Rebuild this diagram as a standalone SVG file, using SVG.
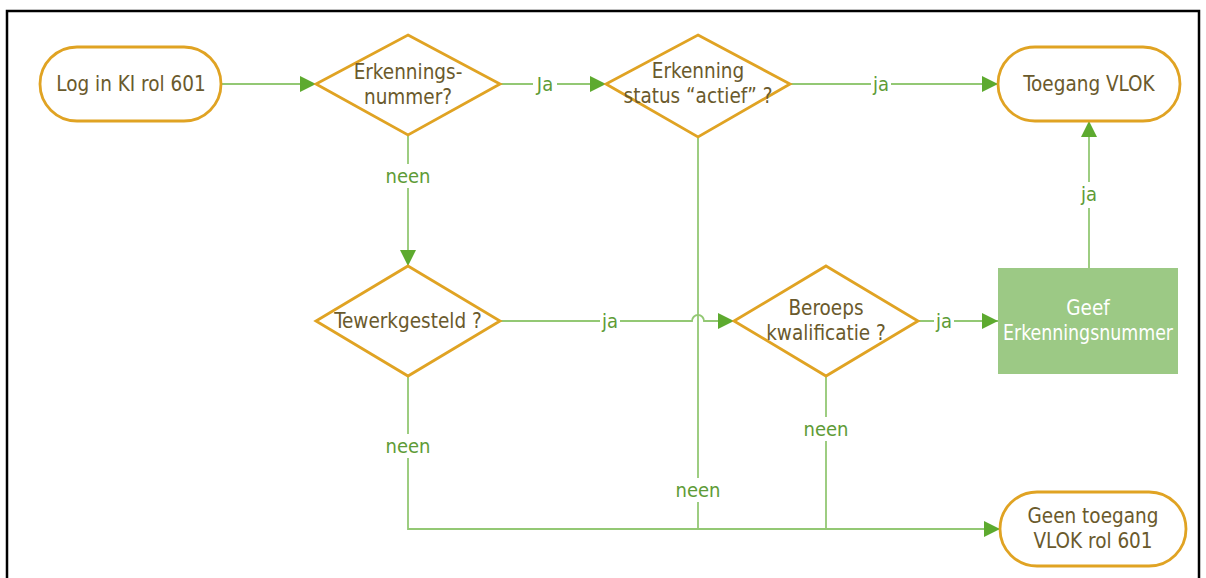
<svg xmlns="http://www.w3.org/2000/svg" width="1206" height="578" viewBox="0 0 1206 578">
<defs>
<marker id="arr" viewBox="0 0 10 10" refX="10" refY="5" markerWidth="16" markerHeight="16" markerUnits="userSpaceOnUse" orient="auto">
<path d="M0,0 L10,5 L0,10 z" fill="#5DAA2F"/>
</marker>
<style>
.frame{fill:#fff;stroke:#000;stroke-width:2.5}
.term{fill:#fff;stroke:#E0A323;stroke-width:2.8}
.dec{fill:#fff;stroke:#E0A323;stroke-width:2.8}
.proc{fill:#9CC985;stroke:none}
.nt{font-family:"DejaVu Sans Condensed","Liberation Sans",sans-serif;font-stretch:condensed;font-size:20.5px;fill:#6A5A2C;text-anchor:middle}
.wt{font-family:"DejaVu Sans Condensed","Liberation Sans",sans-serif;font-stretch:condensed;font-size:20.5px;fill:#fff;text-anchor:middle}
.el{font-family:"DejaVu Sans Condensed","Liberation Sans",sans-serif;font-stretch:condensed;font-size:20px;fill:#5E9B36;text-anchor:middle}
.lbg{fill:#fff}
.cn{fill:none;stroke:#93C874;stroke-width:1.8}
</style>
</defs>
<rect class="frame" x="7" y="11" width="1192" height="572"/>

<g id="connectors">
<path class="cn" d="M221,84 H316" marker-end="url(#arr)"/>
<path class="cn" d="M500,84 H606" marker-end="url(#arr)"/>
<path class="cn" d="M790,84 H998" marker-end="url(#arr)"/>
<path class="cn" d="M408,135 V266" marker-end="url(#arr)"/>
<path class="cn" d="M500,321 H692 A6,6 0 0 1 704,321 H734" marker-end="url(#arr)"/>
<path class="cn" d="M918,321 H998" marker-end="url(#arr)"/>
<path class="cn" d="M1089,268 V121" marker-end="url(#arr)"/>
<path class="cn" d="M698,137 V529"/>
<path class="cn" d="M408,376 V529 H1000" marker-end="url(#arr)"/>
<path class="cn" d="M826,376 V529"/>
<g id="edge-labels">
<rect class="lbg" x="533" y="72" width="24" height="24"/><text class="el" x="545" y="91">Ja</text>
<rect class="lbg" x="871" y="72" width="20" height="24"/><text class="el" x="881" y="91">ja</text>
<rect class="lbg" x="384" y="164" width="48" height="24"/><text class="el" x="408" y="183">neen</text>
<rect class="lbg" x="600" y="309" width="20" height="24"/><text class="el" x="610" y="328">ja</text>
<rect class="lbg" x="934" y="309" width="20" height="24"/><text class="el" x="944" y="328">ja</text>
<rect class="lbg" x="1079" y="182" width="20" height="26"/><text class="el" x="1089" y="201">ja</text>
<rect class="lbg" x="384" y="434" width="48" height="24"/><text class="el" x="408" y="453">neen</text>
<rect class="lbg" x="674" y="478" width="48" height="24"/><text class="el" x="698" y="497">neen</text>
<rect class="lbg" x="802" y="417" width="48" height="24"/><text class="el" x="826" y="436">neen</text>
</g>
</g>

<g id="start">
<rect class="term" x="40" y="47" width="181" height="74" rx="37"/>
<text class="nt" x="131" y="91">Log in KI rol 601</text>
</g>
<g id="erkenningsnummer">
<polygon class="dec" points="408,35 500,84 408,135 316,84"/>
<text class="nt" x="408" y="79">Erkennings-</text>
<text class="nt" x="408" y="104">nummer?</text>
</g>
<g id="status">
<polygon class="dec" points="698,35 790,84 698,137 606,84"/>
<text class="nt" x="698" y="78">Erkenning</text>
<text class="nt" x="698" y="103">status “actief” ?</text>
</g>
<g id="toegang">
<rect class="term" x="998" y="47" width="182" height="74" rx="37"/>
<text class="nt" x="1089" y="91">Toegang VLOK</text>
</g>
<g id="tewerkgesteld">
<polygon class="dec" points="408,266 500,321 408,376 316,321"/>
<text class="nt" x="408" y="328">Tewerkgesteld ?</text>
</g>
<g id="beroeps">
<polygon class="dec" points="826,266 918,321 826,376 734,321"/>
<text class="nt" x="826" y="315">Beroeps</text>
<text class="nt" x="826" y="340">kwalificatie ?</text>
</g>
<g id="geef">
<rect class="proc" x="998" y="268" width="180" height="106"/>
<text class="wt" x="1088" y="315">Geef</text>
<text class="wt" x="1088" y="340" textLength="170" lengthAdjust="spacingAndGlyphs">Erkenningsnummer</text>
</g>
<g id="geen-toegang">
<rect class="term" x="1000" y="492" width="186" height="74" rx="37"/>
<text class="nt" x="1093" y="523">Geen toegang</text>
<text class="nt" x="1093" y="548">VLOK rol 601</text>
</g>
</svg>
